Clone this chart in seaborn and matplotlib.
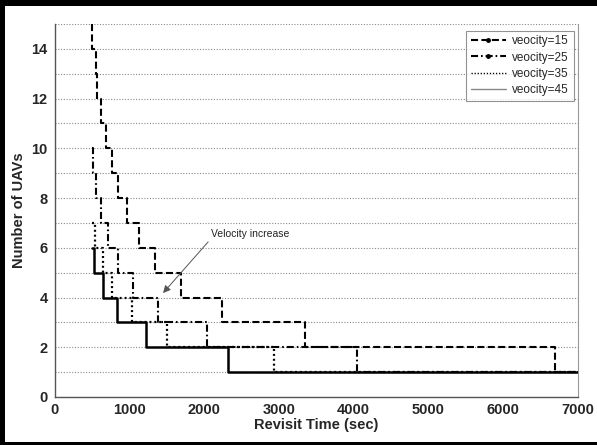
import matplotlib
matplotlib.use("Agg")
import matplotlib.pyplot as plt
from matplotlib.lines import Line2D
import seaborn as sns
import pandas as pd

# revisit time (sec) at which N UAVs become enough, for N = 1, 2, ...
t_start = 500
t_end = 7000
v15_times = [6700, 3353, 2246, 1693, 1350, 1135, 967, 851, 766, 689, 622, 573, 552, 505]
v25_times = [4050, 2046, 1381, 1055, 854, 720, 618, 552, 510]
v35_times = [2938, 1502, 1031, 775, 653, 542]
v45_times = [2327, 1221, 841, 653, 529]
labels = ["veocity=15", "veocity=25", "veocity=35", "veocity=45"]


def staircase(times):
    n_max = len(times) + 1
    x = [t_start] + times[::-1] + [t_end]
    y = list(range(n_max, 0, -1)) + [1]
    return pd.DataFrame({"t": x, "n": y})


sns.set_style("white")
plt.rcParams["font.family"] = ["Liberation Sans", "DejaVu Sans"]

fig = plt.figure(figsize=(5.97, 4.45), dpi=100, facecolor="white")

# frame around the picture (left, top, bottom), drawn in a background axes
bax = fig.add_axes([0, 0, 1, 1], zorder=-1)
bax.set_xlim(0, 597)
bax.set_ylim(0, 445)
bax.axis("off")
bax.axvspan(0, 5, color="black", lw=0)
bax.axhspan(439, 445, color="black", lw=0)
bax.axhspan(0, 3, color="black", lw=0)

ax = fig.add_axes([0.0913, 0.1079, 0.8764, 0.8381])

styles = [
    dict(linestyle=(0, (3.4, 1.6)), linewidth=1.5),
    dict(linestyle=(0, (3.4, 1.4, 0.8, 1.4)), linewidth=1.5),
    dict(linestyle=(0, (0.9, 1.3)), linewidth=1.6),
    dict(linestyle="-", linewidth=1.8),
]
for times, st in zip([v15_times, v25_times, v35_times, v45_times], styles):
    df = staircase(times)
    sns.lineplot(data=df, x="t", y="n", ax=ax, color="black", drawstyle="steps-post",
                 estimator=None, sort=False, zorder=3, **st)

ax.set_xlim(0, 7000)
ax.set_ylim(0, 15)
ax.set_xticks(range(0, 7001, 1000))
ax.set_yticks(range(0, 15, 2))
ax.set_yticks(range(0, 16), minor=True)
ax.grid(True, which="both", axis="y", color="#8a8a8a", linestyle=(0, (1, 1.5)), linewidth=0.8, zorder=1)
ax.grid(False, axis="x")
ax.tick_params(axis="x", which="major", direction="in", length=5, width=0.8, color="#666",
               pad=4, labelsize=10.5)
ax.tick_params(axis="y", which="both", length=0, pad=5, labelsize=10.5)
for lab in ax.get_xticklabels() + ax.get_yticklabels():
    lab.set_fontweight("bold")

ax.spines["top"].set_visible(False)
ax.spines["right"].set_color("#999")
ax.spines["right"].set_linewidth(0.8)
for s in ["left", "bottom"]:
    ax.spines[s].set_color("#555")
    ax.spines[s].set_linewidth(1.0)

ax.set_xlabel("Revisit Time (sec)", fontsize=10.5, fontweight="bold", labelpad=1)
ax.set_ylabel("Number of UAVs", fontsize=10.5, fontweight="bold", labelpad=4)

ax.annotate("Velocity increase", xy=(1452, 4.18), xytext=(2100, 6.55),
            fontsize=7.5, color="#222", ha="left", va="center",
            arrowprops=dict(arrowstyle="-|>", color="#555", lw=0.7, mutation_scale=11,
                            shrinkA=0, shrinkB=0, relpos=(0, 0.1)))

handles = [
    Line2D([], [], color="black", marker=".", markersize=5, **styles[0]),
    Line2D([], [], color="black", marker=".", markersize=5, **styles[1]),
    Line2D([], [], color="black", linestyle=(0, (0.9, 1.3)), linewidth=1.0),
    Line2D([], [], color="#888", linestyle="-", linewidth=1.0),
]
leg = ax.legend(handles, labels, loc="upper right", bbox_to_anchor=(0.992, 0.982),
                borderaxespad=0, fontsize=8.5, frameon=True, fancybox=False,
                handlelength=3.0, handletextpad=0.5, labelspacing=0.35,
                borderpad=0.4, numpoints=1)
leg.get_frame().set_edgecolor("#777")
leg.get_frame().set_linewidth(0.8)

fig.savefig("out.png", dpi=100, facecolor="white")
